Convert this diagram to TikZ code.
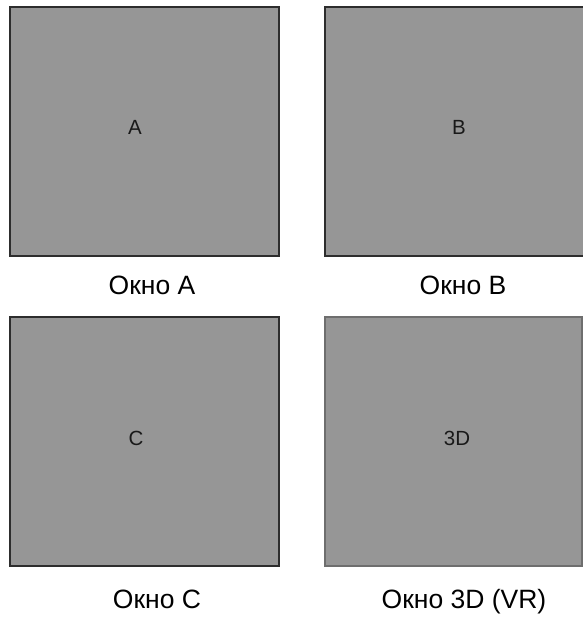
\documentclass[tikz,border=0pt]{standalone}
\usepackage{fontspec}
\setmainfont{Liberation Sans}
\definecolor{panelgray}{RGB}{150,150,150}
\definecolor{edgedark}{RGB}{45,45,45}
\definecolor{edgelight}{RGB}{110,110,110}
\definecolor{inktext}{RGB}{25,25,25}
\tikzset{
  panel/.style={draw=edgedark, fill=panelgray, line width=1.6pt},
  panellight/.style={draw=edgelight, fill=panelgray, line width=1.2pt},
  inner/.style={font=\fontsize{20.5}{24}\selectfont, text=inktext, anchor=base, inner sep=0pt},
  caption/.style={font=\fontsize{26.5}{30}\selectfont, text=black, anchor=base, inner sep=0pt}
}
\begin{document}
\begin{tikzpicture}[x=1pt,y=-1pt]
\useasboundingbox (0,0) rectangle (583,619);
\clip (0,0) rectangle (583,619);
\fill[white] (0,0) rectangle (583,619);
% panels
\draw[panel] (10,7) rectangle (279,256);
\draw[panel] (325,7) rectangle (592,256);
\draw[panel] (10,317) rectangle (279,566);
\draw[panellight] (325,317) rectangle (582,566);
% inner letters
\node[inner] (ia) at (135,134) {A};
\node[inner] (ib) at (459,134) {B};
\node[inner] (ic) at (136,445) {C};
\node[inner] (id) at (457,445) {3D};
% captions
\node[caption] (ca) at (152,294) {Окно A};
\node[caption] (cb) at (463,294) {Окно B};
\node[caption] (cc) at (157,608) {Окно C};
\node[caption] (cd) at (464,608) {Окно 3D (VR)};
\end{tikzpicture}
\end{document}
